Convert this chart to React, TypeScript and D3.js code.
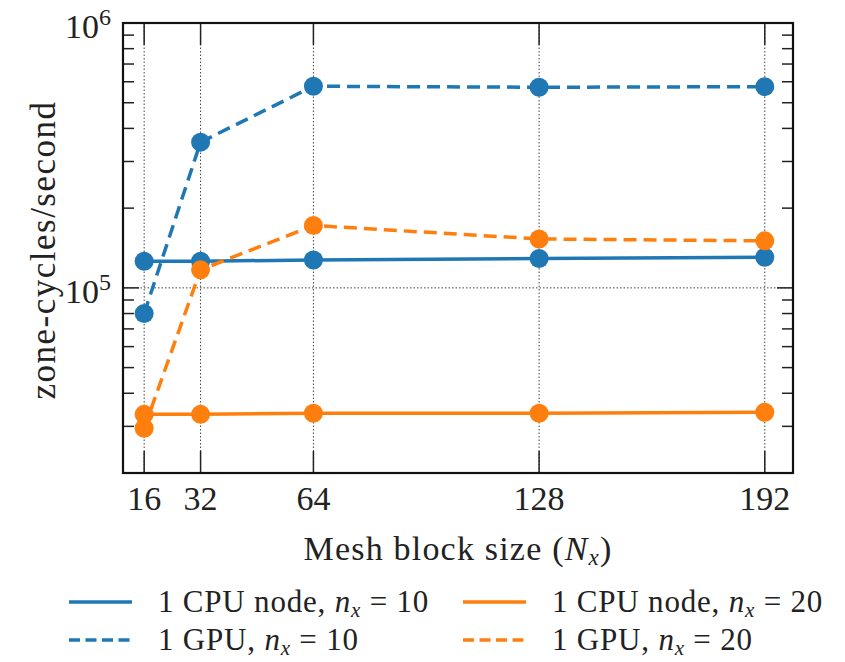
import React from "react";
import * as d3 from "d3";

const blockSizes = [16, 32, 64, 128, 192];
const cpuNode10 = [126000, 126000, 127500, 129000, 130500];
const gpu10 = [80000, 355000, 577000, 572000, 575000];
const cpuNode20 = [33300, 33300, 33600, 33600, 33900];
const gpu20 = [29500, 117000, 172000, 153000, 150500];
const yMajorTicks = [1e5, 1e6];
const yMinorTicks = [2e4, 3e4, 4e4, 5e4, 6e4, 7e4, 8e4, 9e4, 2e5, 3e5, 4e5, 5e5, 6e5, 7e5, 8e5, 9e5];

const BLUE = "#1f77b4";
const ORANGE = "#ff7f0e";
const FONT = "Liberation Serif, DejaVu Serif, serif";

const series = [
  { label: "1 CPU node, ", nx: "10", values: cpuNode10, color: BLUE, dashed: false },
  { label: "1 GPU, ", nx: "10", values: gpu10, color: BLUE, dashed: true },
  { label: "1 CPU node, ", nx: "20", values: cpuNode20, color: ORANGE, dashed: false },
  { label: "1 GPU, ", nx: "20", values: gpu20, color: ORANGE, dashed: true },
];

const W = 845, H = 662;
const X0 = 123, X1 = 793, Y0 = 23, Y1 = 473;

export default function App() {
  const x = d3.scaleLinear().domain([10, 200]).range([X0, X1]);
  const y = d3.scaleLog().domain([2e4, 1e6]).range([Y1, Y0]);
  const line = d3
    .line<number>()
    .x((_, i) => x(blockSizes[i]))
    .y((d) => y(d));

  const legendPos = [
    { lx: 69, ly: 602 },
    { lx: 69, ly: 640 },
    { lx: 463, ly: 602 },
    { lx: 463, ly: 640 },
  ];

  return (
    <svg
      width={W}
      height={H}
      style={{ position: "absolute", left: 0, top: 0, background: "#fff", fontFamily: FONT }}
    >
      <rect x={0} y={0} width={W} height={H} fill="#fff" />
      {/* grid */}
      {blockSizes.map((v) => (
        <line key={"gx" + v} x1={x(v)} x2={x(v)} y1={Y0} y2={Y1} stroke="#444" strokeWidth={1} strokeDasharray="1.5,2" />
      ))}
      {yMajorTicks.map((v) => (
        <line key={"gy" + v} x1={X0} x2={X1} y1={y(v)} y2={y(v)} stroke="#444" strokeWidth={1} strokeDasharray="1.5,2" />
      ))}
      {/* ticks */}
      {blockSizes.map((v) => (
        <g key={"tx" + v} stroke="#222" strokeWidth={1.5}>
          <line x1={x(v)} x2={x(v)} y1={Y1} y2={Y1 - 22} />
          <line x1={x(v)} x2={x(v)} y1={Y0} y2={Y0 + 22} />
        </g>
      ))}
      {yMajorTicks.map((v) => (
        <g key={"tyM" + v} stroke="#222" strokeWidth={1.5}>
          <line x1={X0} x2={X0 + 16} y1={y(v)} y2={y(v)} />
          <line x1={X1} x2={X1 - 16} y1={y(v)} y2={y(v)} />
        </g>
      ))}
      {yMinorTicks.map((v) => (
        <g key={"tym" + v} stroke="#222" strokeWidth={1.5}>
          <line x1={X0} x2={X0 + 11} y1={y(v)} y2={y(v)} />
          <line x1={X1} x2={X1 - 11} y1={y(v)} y2={y(v)} />
        </g>
      ))}
      {/* series */}
      {series.map((s, si) => (
        <g key={"s" + si}>
          <path
            d={line(s.values) || ""}
            fill="none"
            stroke={s.color}
            strokeWidth={3.5}
            strokeDasharray={s.dashed ? "13,7" : undefined}
          />
          {s.values.map((v, i) => (
            <circle key={i} cx={x(blockSizes[i])} cy={y(v)} r={9.5} fill={s.color} />
          ))}
        </g>
      ))}
      {/* frame */}
      <rect x={X0} y={Y0} width={X1 - X0} height={Y1 - Y0} fill="none" stroke="#111" strokeWidth={2.2} />
      {/* x tick labels */}
      {blockSizes.map((v) => (
        <text key={"lx" + v} x={x(v)} y={510} textAnchor="middle" fontSize={34} fill="#222">
          {v}
        </text>
      ))}
      {/* y tick labels */}
      {yMajorTicks.map((v) => (
        <text key={"ly" + v} x={111} y={y(v) + 15} textAnchor="end" fontSize={34} fill="#222">
          10
          <tspan dy={-13} fontSize={24}>
            {Math.round(Math.log10(v))}
          </tspan>
        </text>
      ))}
      {/* axis labels */}
      <text x={(X0 + X1) / 2} y={560} textAnchor="middle" fontSize={34} letterSpacing={1.2} fill="#222">
        Mesh block size (<tspan fontStyle="italic">N</tspan>
        <tspan fontStyle="italic" fontSize={23} dy={5}>x</tspan>
        <tspan dy={-5}>)</tspan>
      </text>
      <text
        transform={`translate(55, 250) rotate(-90)`}
        textAnchor="middle"
        fontSize={35}
        letterSpacing={1.5}
        fill="#222"
      >
        zone-cycles/second
      </text>
      {/* legend */}
      {series.map((s, si) => {
        const p = legendPos[si];
        return (
          <g key={"lg" + si}>
            <line
              x1={p.lx}
              x2={p.lx + 63}
              y1={p.ly}
              y2={p.ly}
              stroke={s.color}
              strokeWidth={3.5}
              strokeDasharray={s.dashed ? "11,5.5" : undefined}
            />
            <text x={p.lx + 89} y={p.ly + 10} fontSize={31} letterSpacing={0.8} fill="#222">
              {s.label}
              <tspan fontStyle="italic">n</tspan>
              <tspan fontStyle="italic" fontSize={21} dy={5}>x</tspan>
              <tspan dy={-5}>{" = " + s.nx}</tspan>
            </text>
          </g>
        );
      })}
    </svg>
  );
}
